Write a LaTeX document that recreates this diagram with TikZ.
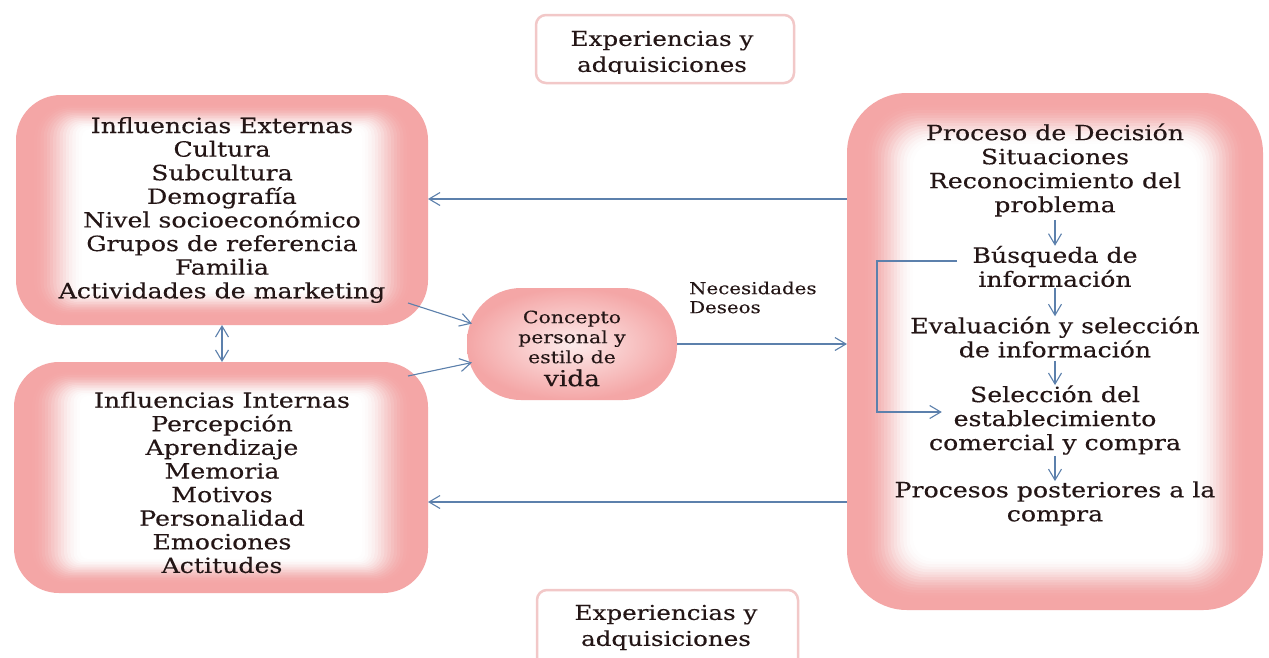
\documentclass[tikz,border=0pt]{standalone}
\usepackage{fontspec}
\setmainfont{DejaVu Serif}[FakeStretch=1.2,FakeBold=0.25]
\usetikzlibrary{arrows.meta,calc}
\definecolor{pinkc}{RGB}{244,166,166}
\definecolor{txtc}{RGB}{36,22,22}
\definecolor{arrc}{RGB}{92,128,172}
\definecolor{brdc}{RGB}{242,200,200}
% #1 node, #2 radius, #3 x start, #4 y start, #5 x step, #6 y step
\newcommand\glowbox[6]{%
  \fill[pinkc,rounded corners=#2pt] (#1.north west) rectangle (#1.south east);
  \foreach \i in {0,...,15}{%
    \pgfmathsetmacro\dx{#3+#5*\i}%
    \pgfmathsetmacro\dy{#4+#6*\i}%
    \pgfmathsetmacro\rr{max(#2-0.6*\dx,8)}%
    \pgfmathsetmacro\ta{\i/16}%
    \pgfmathsetmacro\tb{(\i+1)/16}%
    \pgfmathsetmacro\wa{3*\ta*\ta-2*\ta*\ta*\ta}%
    \pgfmathsetmacro\wb{3*\tb*\tb-2*\tb*\tb*\tb}%
    \pgfmathsetmacro\op{min(1,(\wb-\wa)/(1-\wa))}%
    \fill[white,opacity=\op,rounded corners=\rr pt] ([xshift=\dx pt,yshift=-\dy pt]#1.north west) rectangle ([xshift=-\dx pt,yshift=\dy pt]#1.south east);
  }%
}
\tikzset{
  geo/.style={rectangle,inner sep=0pt,outer sep=0pt},
  bigtxt/.style={text=txtc,align=center,inner sep=0pt,font=\fontsize{21}{23.6}\selectfont},
  rtxt/.style={text=txtc,align=center,inner sep=0pt,font=\fontsize{21}{24}\selectfont},
  ctxt/.style={text=txtc,align=center,inner sep=0pt,font=\fontsize{17}{20}\selectfont},
  etxt/.style={text=txtc,align=center,inner sep=0pt,font=\fontsize{20.5}{26}\selectfont},
  lbl/.style={text=txtc,align=left,inner sep=0pt,font=\fontsize{16.5}{19}\selectfont},
  arr/.style={draw=arrc,line width=1.1pt,-{Straight Barb[length=11pt,width=13pt]}},
  arrb/.style={draw=arrc,line width=1.1pt,{Straight Barb[length=11pt,width=13pt]}-{Straight Barb[length=11pt,width=13pt]}},
  smallbox/.style={draw=brdc,line width=2.5pt,fill=white,rounded corners=10pt}
}
\begin{document}
\begin{tikzpicture}[x=1pt,y=-1pt]
\clip (0,0) rectangle (1269,657);
\fill[white] (0,0) rectangle (1269,657);
% geometry
\node[geo,minimum width=412pt,minimum height=230pt] (ext) at (222,210) {};
\node[geo,minimum width=414pt,minimum height=231pt] (int) at (221,477.5) {};
\node[geo,minimum width=416pt,minimum height=517pt] (rb) at (1055,351.5) {};
\node[geo,minimum width=210pt,minimum height=112pt] (cpt) at (572,344) {};
\node[geo,minimum width=258pt,minimum height=68pt] (exa) at (665,49) {};
\node[geo,minimum width=261pt,minimum height=100pt] (exb) at (667.5,640) {};
% fills
\glowbox{ext}{45}{18}{10}{3.2}{1.6}
\glowbox{int}{45}{18}{10}{3.2}{1.6}
\glowbox{rb}{60}{18}{12}{3.2}{2.6}
\shade[inner color=pinkc!22,outer color=pinkc,rounded corners=54pt] (cpt.north west) rectangle (cpt.south east);
\draw[smallbox] (exa.north west) rectangle (exa.south east);
\draw[smallbox] (exb.north west) rectangle (exb.south east);
% texts
\node[bigtxt] (extT) at (222,210) {Influencias Externas\\Cultura\\Subcultura\\Demografía\\Nivel socioeconómico\\Grupos de referencia\\Familia\\Actividades de marketing};
\node[bigtxt] (intT) at (222,482.5) {Influencias Internas\\Percepción\\Aprendizaje\\Memoria\\Motivos\\Personalidad\\Emociones\\Actitudes};
\node[rtxt] (g1) at (1055,170) {Proceso de Decisión\\Situaciones\\Reconocimiento del\\problema};
\node[rtxt] (g2) at (1055,266.5) {Búsqueda de\\información};
\node[rtxt] (g3) at (1055,337) {Evaluación y selección\\de información};
\node[rtxt] (g4) at (1055,420) {Selección del\\establecimiento\\comercial y compra};
\node[rtxt] (g5) at (1055,503.5) {Procesos posteriores a la\\compra};
\node[ctxt] (cptT) at (572,337) {Concepto\\personal y\\estilo de};
\node[text=txtc,inner sep=0pt,font=\fontsize{22}{22}\selectfont] (cptV) at (572,378) {vida};
\node[lbl,anchor=west] (nd) at (689,297.5) {Necesidades\\Deseos};
\begin{scope}
\clip ([xshift=2pt,yshift=-2pt]exa.north west) rectangle ([xshift=-2pt,yshift=10pt]exa.south east);
\node[etxt] (exaT) at (662,53.5) {Experiencias y\\adquisiciones};
\end{scope}
\node[etxt] (exbT) at (666,627.5) {Experiencias y\\adquisiciones};
% connectors
\draw[arr] ([yshift=152.5pt]rb.west) -- ([yshift=152.5pt]rb.west -| ext.east);
\draw[arr] ([yshift=-150.5pt]rb.west) -- ([yshift=-150.5pt]rb.west -| int.east);
\draw[arr] (cpt.east) -- (cpt.east -| rb.west);
\draw[arr] ([xshift=-20pt,yshift=22pt]ext.south east) -- ([xshift=5pt]cpt.169);
\draw[arr] ([xshift=-20pt,yshift=-14pt]int.north east) -- ([xshift=5pt]cpt.190);
\draw[arrb] (ext.south) -- (ext.south |- int.north);
\draw[arr,shorten <=3pt,shorten >=0pt] (g1.south) -- (g2.north);
\draw[arr,shorten <=1pt,shorten >=0pt] (g2.south) -- (g3.north);
\draw[arr,shorten <=3pt,shorten >=0pt] (g3.south) -- (g4.north);
\draw[arr,shorten <=1pt,shorten >=0pt] (g4.south) -- (g5.north);
\coordinate (bx) at (877,0);
\draw[arr,shorten <=15pt] ([yshift=5.5pt]g2.west) -- ([yshift=5.5pt]g2.west -| bx) |- ([xshift=13pt,yshift=8pt]g4.west);
\end{tikzpicture}
\end{document}
